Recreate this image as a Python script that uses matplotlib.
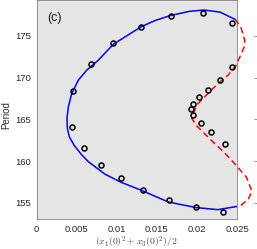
import numpy as np
import matplotlib
matplotlib.use('Agg')
import matplotlib.pyplot as plt

plt.rcParams['font.family'] = ['Liberation Sans', 'DejaVu Sans']
plt.rcParams['mathtext.fontset'] = 'cm'

# stable branch (solid blue)
blue_x = [0.02471, 0.0229, 0.0209, 0.0191, 0.01673, 0.0148, 0.01306, 0.0114, 0.00958,
          0.00771, 0.00626, 0.00521, 0.00439, 0.00397, 0.0038, 0.00385, 0.0041,
          0.0047, 0.0056, 0.00646, 0.00854, 0.01062, 0.01312, 0.01478, 0.0165, 0.0199,
          0.0226, 0.0251]
blue_y = [177.0, 177.85, 178.1, 177.95, 177.45, 176.85, 176.1, 175.1, 174.0,
          172.1, 170.9, 169.7, 168.1, 166.5, 165.1, 163.9, 162.9,
          161.9, 160.8, 159.95, 158.45, 157.45, 156.5, 155.8, 155.1, 154.45,
          154.2, 154.6]

# unstable branch (dashed red)
red_x = [0.02475, 0.02546, 0.02596, 0.0259, 0.02554, 0.02491, 0.02388, 0.02242,
         0.02117, 0.02014, 0.01951, 0.01939, 0.0199, 0.0218, 0.02346, 0.0249,
         0.02616, 0.02687, 0.02637, 0.02533]
red_y = [177.0, 176.1, 174.5, 173.7, 172.9, 171.5, 170.3, 169.1,
         167.9, 166.9, 165.7, 165.1, 164.3, 162.5, 161.0, 159.5,
         158.1, 156.4, 155.4, 154.6]

# simulation points (open circles)
pts_x = [0.0244, 0.0208, 0.01673, 0.0130, 0.00958, 0.00676, 0.00459, 0.00438,
         0.00592, 0.00804, 0.01054, 0.01332, 0.01652, 0.01989, 0.02322,
         0.0244, 0.0229, 0.02142, 0.02026, 0.01951, 0.01926, 0.01955, 0.0205,
         0.0218, 0.02346]
pts_y = [176.5, 177.7, 177.4, 176.1, 174.1, 171.6, 168.4, 164.1,
         161.6, 159.6, 158.0, 156.6, 155.4, 154.5, 153.96,
         171.3, 169.7, 168.5, 167.66, 166.9, 166.26, 165.5, 164.6,
         163.5, 162.1]

xticks = [0, 0.005, 0.01, 0.015, 0.02, 0.025]
xticklabels = ['0', '0.005', '0.01', '0.015', '0.02', '0.025']
yticks = [155, 160, 165, 170, 175]

W, H = 257, 249
fig = plt.figure(figsize=(W / 100, H / 100), dpi=100)
ax = fig.add_axes([36.5 / W, 30 / H, 200.5 / W, 219 / H])
ax.set_facecolor('#e5e5e5')

ax.plot(blue_x, blue_y, color='#0000ff', lw=1.1, zorder=3)
ax.plot(red_x, red_y, color='#ff0000', lw=1.1, ls=(0, (4, 2.5)), clip_on=False, zorder=3)
ax.plot(pts_x, pts_y, 'o', mfc='none', mec='black', ms=3.6, mew=1.1, zorder=4)

ax.set_xlim(0, 0.025)
ax.set_ylim(153.08, 179.3)
ax.set_xticks(xticks)
ax.set_xticklabels(xticklabels)
ax.set_yticks(yticks)
ax.tick_params(length=0, labelsize=6.8, labelcolor='#262626', pad=4)
for s in ax.spines.values():
    s.set_color('#808080')
    s.set_linewidth(0.6)

ax.set_xlabel(r'$(x_1(0)^2 + x_3(0)^2)/2$', fontsize=7, color='#404040', labelpad=1)
ax.set_ylabel('Period', fontsize=7, color='#262626')
ax.yaxis.set_label_coords(-0.128, 0.475)
ax.text(0.052, 0.92, '(c)', transform=ax.transAxes, fontsize=9, va='center', ha='left',
        color='#1a1a1a')

# ticks of the neighbouring panel peeking in at the right edge
ax2 = fig.add_axes([258 / W, 30 / H, 0.5, 219 / H])
ax2.set_ylim(153.08, 179.3)
ax2.set_yticks(yticks)
ax2.set_xticks([])
ax2.set_frame_on(False)
ax2.tick_params(axis='y', direction='out', length=3, width=0.6, color='#808080', labelleft=False)

fig.savefig('out.png', dpi=100)
